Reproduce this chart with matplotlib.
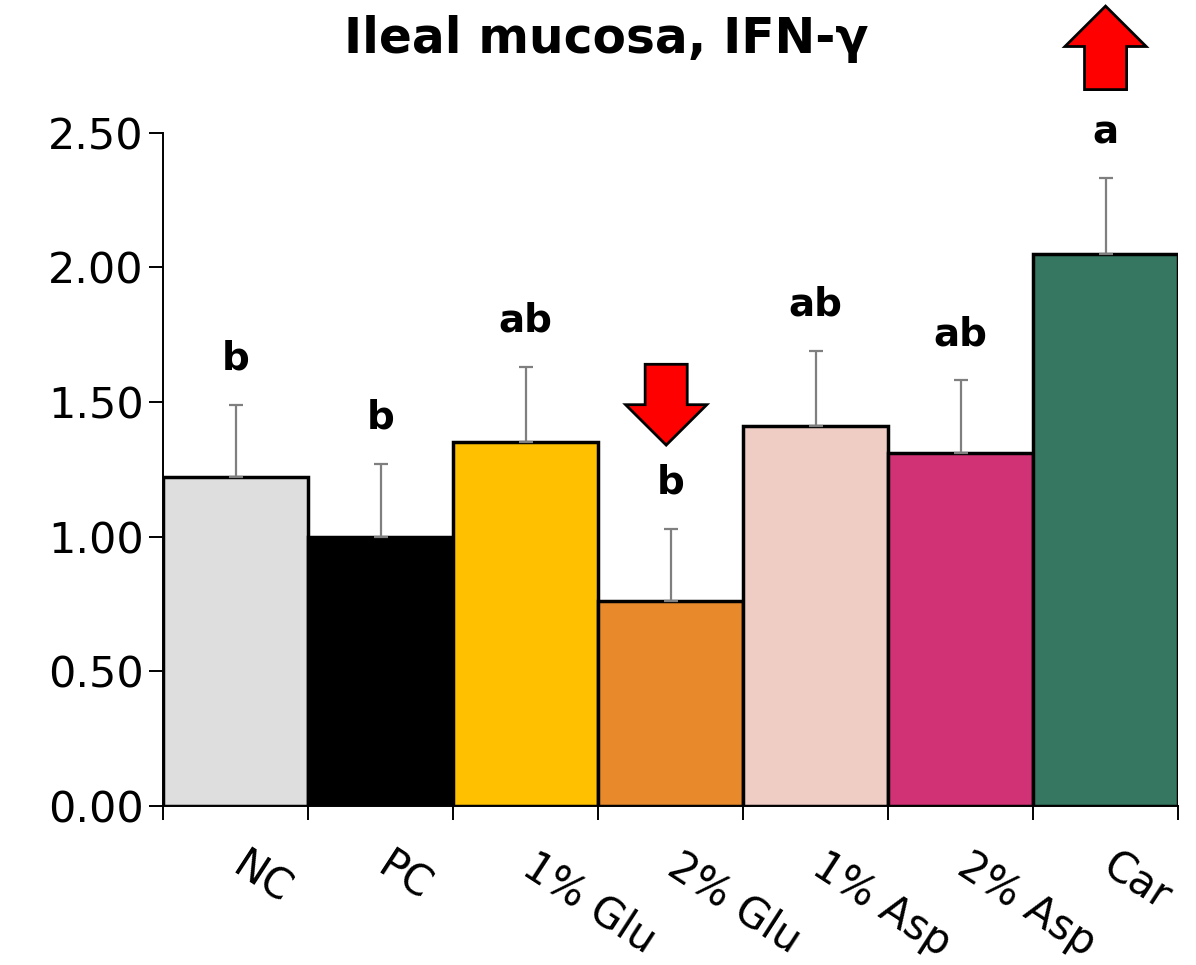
import matplotlib
matplotlib.use("Agg")
import matplotlib.pyplot as plt
from matplotlib.patches import Polygon
import numpy as np

plt.rcParams['font.family'] = ['DejaVu Sans']

# ---- data ----
categories = ["NC", "PC", "1% Glu", "2% Glu", "1% Asp", "2% Asp", "Car"]
means = [1.22, 1.00, 1.35, 0.76, 1.41, 1.31, 2.05]
errors = [0.27, 0.27, 0.28, 0.27, 0.28, 0.27, 0.28]
letters = ["b", "b", "ab", "b", "ab", "ab", "a"]
colors = ["#DEDEDE", "#000000", "#FFC000", "#E8892B", "#F0CDC4", "#D13275", "#357761"]
y_ticks = [0.0, 0.5, 1.0, 1.5, 2.0, 2.5]
title = "Ileal mucosa, IFN-\u03b3"
# arrows: (category index, direction)
arrow_marks = [(3, "down"), (6, "up")]

fig = plt.figure(figsize=(11.96, 9.65), dpi=100)
ax = fig.add_axes([0.1363, 0.1648, 0.8487, 0.6977])

x = np.arange(len(categories))
ax.bar(x, means, width=1.0, color=colors, edgecolor="black", linewidth=2.5, zorder=2)
ax.errorbar(x, means, yerr=[np.zeros(len(errors)), errors], fmt="none",
            ecolor="#7F7F7F", elinewidth=1.6, capsize=5, capthick=1.6, zorder=3)

for xi, m, e, lab in zip(x, means, errors, letters):
    ax.text(xi, m + e + 0.13, lab, ha="center", va="baseline",
            fontsize=28, fontweight="bold", color="black", zorder=4)

# arrows
for idx, direction in arrow_marks:
    top = means[idx] + errors[idx]
    cx = idx - 0.03 if direction == "down" else idx
    hw, sw = 0.28, 0.145
    if direction == "down":
        tip = top + 0.31
        head_base = tip + 0.15
        tail = tip + 0.30
        pts = [(cx - sw, tail), (cx + sw, tail), (cx + sw, head_base), (cx + hw, head_base),
               (cx, tip), (cx - hw, head_base), (cx - sw, head_base)]
    else:
        base = top + 0.33
        head_base = base + 0.16
        tip = base + 0.31
        pts = [(cx - sw, base), (cx + sw, base), (cx + sw, head_base), (cx + hw, head_base),
               (cx, tip), (cx - hw, head_base), (cx - sw, head_base)]
    ax.add_patch(Polygon(pts, closed=True, facecolor="#FF0000", edgecolor="black",
                         linewidth=2.0, clip_on=False, zorder=5))

ax.set_xlim(-0.5, len(categories) - 0.5)
ax.set_ylim(0, 2.5)
ax.set_yticks(y_ticks)
ax.set_yticklabels([f"{v:.2f}" for v in y_ticks], fontsize=31)
ax.tick_params(axis="y", length=10, width=1.4, pad=4, direction="out")

ax.set_xticks(x)
ax.set_xticklabels([])
ax.tick_params(axis="x", which="major", length=0)
ax.set_xticks(np.arange(len(categories) + 1) - 0.5, minor=True)
ax.tick_params(axis="x", which="minor", length=10, width=1.4, direction="out")

for xi, cat in zip(x, categories):
    ax.annotate(cat, xy=(xi, 0), xycoords=("data", "axes fraction"),
                xytext=(9, -28), textcoords="offset points",
                rotation=-33, ha="left", va="top", rotation_mode="anchor",
                fontsize=30, annotation_clip=False)

for s in ["top", "right"]:
    ax.spines[s].set_visible(False)
for s in ["left", "bottom"]:
    ax.spines[s].set_linewidth(1.4)

fig.text(0.507, 0.945, title, ha="center", va="baseline", fontsize=35, fontweight="bold")

fig.savefig("out.png", dpi=100)
